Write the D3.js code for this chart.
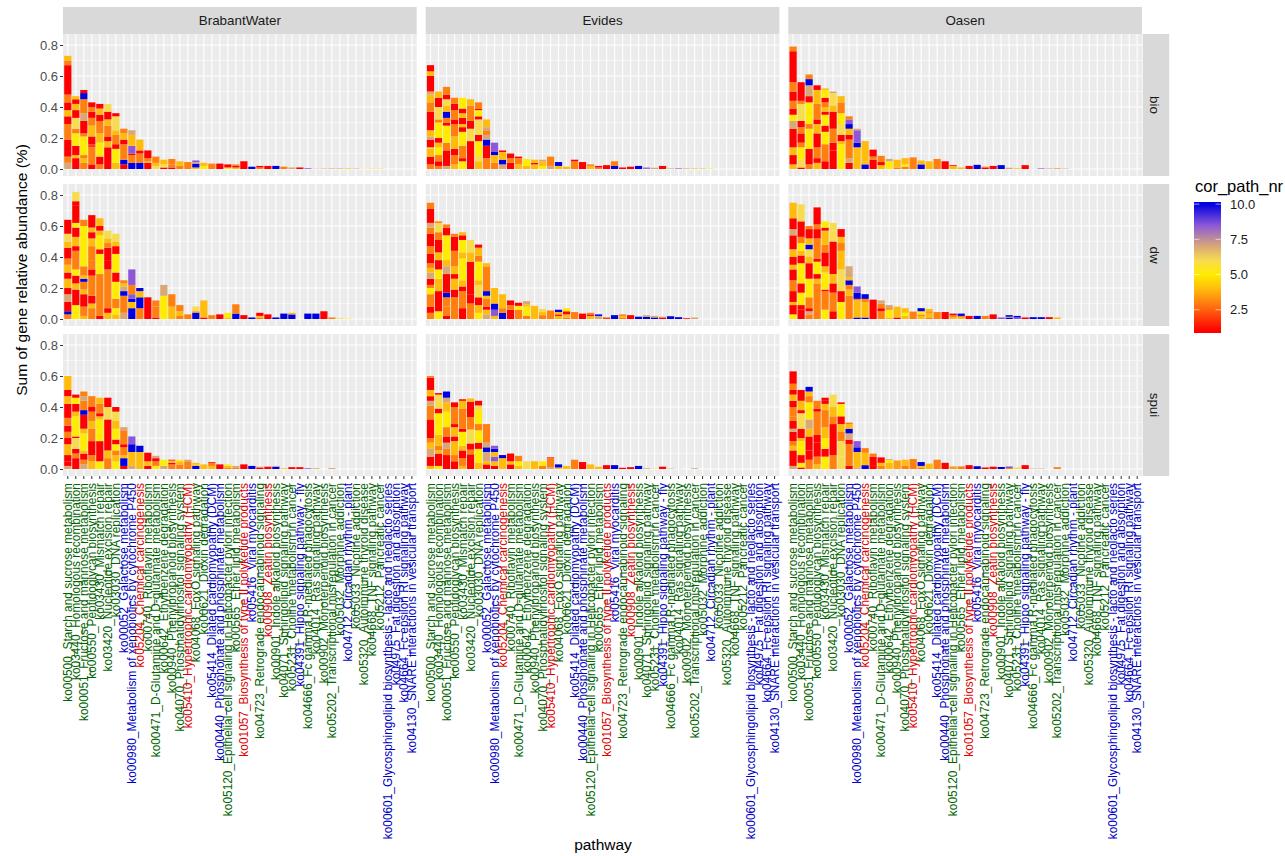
<!DOCTYPE html>
<html>
  <head>
    <title>Pathway abundance</title>
    <script src="https://d3js.org/d3.v7.min.js"></script>
    <style>
      body {
        margin: 0;
        background-color: white;
        overflow: hidden;
      }
      text {
        font-family: "Liberation Sans", Arial, sans-serif;
      }
    </style>
  </head>
  <body>
    <script>
      const pathways = [
        'ko00500_Starch and sucrose metabolism', 'ko03440_Homologous recombination', 'ko00051_Fructose and mannose metabolism',
        'ko00550_Peptidoglycan biosynthesis', 'ko03430_Mismatch repair', 'ko03420_Nucleotide excision repair',
        'ko03030_DNA replication', 'ko00052_Galactose metabolism', 'ko00980_Metabolism of xenobiotics by cytochrome P450',
        'ko05204_Chemical carcinogenesis', 'ko00740_Riboflavin metabolism', 'ko00471_D-Glutamine and D-glutamate metabolism',
        'ko00642_Ethylbenzene degradation', 'ko00940_Phenylpropanoid biosynthesis', 'ko04070_Phosphatidylinositol signaling system',
        'ko05410_Hypertrophic cardiomyopathy (HCM)', 'ko04068_FoxO signaling pathway', 'ko00621_Dioxin degradation',
        'ko05414_Dilated cardiomyopathy (DCM)', 'ko00440_Phosphonate and phosphinate metabolism',
        'ko05120_Epithelial cell signaling in Helicobacter pylori infection', 'ko00565_Ether lipid metabolism',
        'ko01057_Biosynthesis of type II polyketide products', 'ko05416_Viral myocarditis',
        'ko04723_Retrograde endocannabinoid signaling', 'ko00908_Zeatin biosynthesis', 'ko00901_Indole alkaloid biosynthesis',
        'ko04071_Sphingolipid signaling pathway', 'ko05231_Choline metabolism in cancer', 'ko04391_Hippo signaling pathway - fly',
        'ko04666_Fc gamma R-mediated phagocytosis', 'ko04014_Ras signaling pathway', 'ko00902_Monoterpenoid biosynthesis',
        'ko05202_Transcriptional misregulation in cancer', 'ko05032_Morphine addiction', 'ko04712_Circadian rhythm - plant',
        'ko05033_Nicotine addiction', 'ko05320_Autoimmune thyroid disease', 'ko04668_TNF signaling pathway',
        'ko05212_Pancreatic cancer', 'ko00601_Glycosphingolipid biosynthesis - lacto and neolacto series',
        'ko04975_Fat digestion and absorption', 'ko04664_Fc epsilon RI signaling pathway', 'ko04130_SNARE interactions in vesicular transport'
      ];
      // g / b / r per pathway, same order as above
      const pathwayGroup = 'ggggggg' + 'bbr' + 'ggggg' + 'r' + 'gg' + 'bb' + 'gg' + 'r' + 'b' + 'g' + 'r' + 'ggg' + 'b' + 'ggggg' + 'b' + 'gggg' + 'bbbb';
      const companies = ['BrabantWater', 'Evides', 'Oasen'];
      const sources = ['bio', 'dw', 'spui'];
      const yTicks = [0, 0.2, 0.4, 0.6, 0.8];
      const legendTicks = [2.5, 5, 7.5, 10];

      // every column is bottom-up: amount (in 0.01 %), cor_path_nr, amount, cor_path_nr ...
      const bioBrabant = [
        [4,7,4,3,3,1,8,1,10,3,5,1,4,4,5,1,5,3,19,1,3,3,3,4],
        [7,1,2,4,6,1,8,5,3,3,7,6,5,1,4,4,3,1,2,4],
        [4,3,3,4,2,3,12,5,2,3,8,1,5,7,9,3,4,10,2,1],
        [3,1,11,3,2,2,5,1,7,4,5,3,4,1,3,3,3,1],
        [3,3,5,1,9,5,6,4,8,3,4,1,4,4,3,1],
        [14,1,4,4,3,1,7,3,4,4,5,1,5,6],
        [4,4,9,5,3,1,6,3,3,4,9,6,2,1],
        [3,1,3,10,10,3,3,1,4,4,3,3],
        [4,10,5,3,1,1,5,8.5,7,4,3,7],
        [4,10,6,3,2,1,7,4],
        [4,1,1,4,2,3,5,1],
        [2,6,2,4,4,3],
        [1,1,2,6,3,4],
        [1,1,2,3,3.5,3],
        [2,3,3,4],
        [4.5,3],
        [1,4,2.5,10,1,7,1,8.5],
        [2,5,2,4],
        [3.5,3],
        [3.5,1],
        [1,5,2,1],
        [1,4,1,1,1,3],
        [5,1],
        [1.5,10],
        [1,3,1,1],
        [2,1],
        [2,10],
        [1.5,3],
        [1,7],
        [1,1],
        [0.5,8.5],
        [0.2,7],
        [0.3,7],
        [0.3,3],
        [0.4,7],
        [0.4,4],
        [0.3,7],
        [0.2,5],
        [0.3,6],
        [0.3,6]
      ];
      const bioEvides = [
        [3,3,5,1,5,4,1,6,5,1,2,7,4,4,12,1,6,3,5,4,2,7,10,1,3,4,4,1],
        [2,3,3,1,4,3,5,5,3,4,3,1,10,5,2,3,8,6,6,1,4,4],
        [2,7,10,1,5,3,11,5,2,1,3,3,4,10,4,4,4,6,3,1,5,3],
        [3,4,6,3,4,1,8,4,8,3,3,1,6,3,4,1,4,3],
        [5,5,2,1,8,3,9,5,3,1,2,4,4,1,3,4,3,1,7,5],
        [18,1,8,6,5,1,10,3,4,4],
        [5,4,4,6,9,5,4,1,10,6,2,1,4,5,1,1,4,3],
        [7,3,8,1,4,10,3,7,3,3,2,7,5,4],
        [4,3,5,4,2,10,6,8.5],
        [3,7,3,10,5,4,1,1],
        [4,1,3,3,3,1],
        [3,4,4,3,1,1],
        [2,4,4.5,5],
        [3,4,1,1,2,4],
        [2,5,3,4,1,7],
        [2,7,6,3],
        [2,4,2.5,10],
        [1.5,4],
        [5,3,1,1],
        [4.5,1],
        [2,4,1,3],
        [1,3,1,1],
        [2.5,1],
        [2,10,3,3],
        [1,1],
        [1.5,1],
        [2,10],
        [1,8],
        [0.8,7],
        [2,1],
        [0.4,7],
        [0.4,8.5],
        [0.4,7],
        [0.4,4],
        [0.3,7],
        [0.3,5]
      ];
      const bioOasen = [
        [3,4,6,1,5,4,12,1,5,7,4,5,4,1,5,3,6,1,6,3,20,1,3,3],
        [1,1,5,6,8,5,3,3,6,1,4,3,4,1,11,6,2,3,12,1],
        [3,3,10,1,13,5,3,3,14,5,4,1,7,7,4,10,3,3],
        [4,4,3,1,7,3,9,1,6,4,3,1,10,3,9,4,3,1],
        [5,1,11,3,8,5,4,1,7,5,2,1,3,4,3,3,3,1,5,5,1,4],
        [12,1,5,1,9,3,11,1,4,4,8,6,1,7],
        [16,5,2,4,4,1,7,6,7,5,7,3,4,4],
        [4,1,3,7,12,3,3,1,4,4,3,10,3,8.5,2,3],
        [14,4,3,10,8,8.5,1,7],
        [3,10,2,4,13,4],
        [6,1,2,3,4.5,1],
        [2.5,4,2,1,4,3],
        [5,5,1.5,7],
        [1,3,5,4],
        [1.5,3,1.5,5,4,4],
        [7.5,3],
        [3,10,2.5,4],
        [5,4],
        [6.5,3],
        [5,1],
        [2,4,0.5,1],
        [1,4],
        [2,1],
        [2.7,10],
        [1,1,0.5,3],
        [2,1],
        [2.5,10],
        [0.8,7],
        [0.5,4],
        [2.5,1],
        [0.1,7],
        [0.4,8.5],
        [0.4,7],
        [0.4,3],
        [0.3,7]
      ];
      const dwBrabant = [
        [3,3,2,10,6,1,5,7,4,1,6,4,4,1,5,4,4,3,7,1,4,4,5,6,9,1],
        [9,5,10,1,4,4,5,1,4,5,12,3,3,1,6,4,6,1,3,5,11,1,3,1,6,6],
        [2,4,6,3,8,1,3,4,5,3,2,10,2,4,6,3,26,5,4,3],
        [7,3,3,4,5,1,13,3,4,1,6,3,9,3,5,4,4,1,3,4,8,1],
        [2,1,27,3,6,5,7,5,3,1,9,5,3,4,3,1,5,4],
        [4,4,3,1,25,3,6,1,8,1,3,3,3,4,5,6],
        [3,4,4,5,6,3,11,5,6,1,12,5,5,1,3,4,5,6],
        [4,7,11,3,3,10,3,7,2,4,2,3],
        [7,10,4,4,2,10,3,8.5,6,3,10,8.5],
        [7,3,7,10,4,4,2,10],
        [14,1],
        [1,1,7,3,4,3],
        [15,5,7,7],
        [8,4,8,3],
        [2,3,3,4,4,3],
        [3,3],
        [4,10,1,3,2,6,1,6],
        [1,1,11,4],
        [2.5,3],
        [3,1],
        [1,4,3,5],
        [3.5,10,6,3],
        [2.5,1],
        [1,10],
        [1,3,1,4,2,1],
        [3,1],
        [1,10],
        [3.5,10],
        [3,10,1,4],
        [0,1],
        [3.5,10],
        [3.5,10],
        [5,1],
        [1,3],
        [0.3,4],
        [0.3,5]
      ];
      const dwEvides = [
        [4,3,4,1,8,3,4,5,2,3,4,1,4,7,3,4,3,3,6,1,5,3,8,1,4,3,3,7,9,1,4,3],
        [5,5,13,1,8,4,6,5,6,1,5,4,8,1,5,3,6,6,1,3],
        [2,1,6,3,6,3,3,10,12,1,5,7,4,4,16,5,5,1,2,3],
        [14,3,5,1,7,4,3,1,5,4,10,3,9,1,2,3],
        [7,1,11,3,3,1,4,4,14,5,4,4,8,5,3,1,2,4],
        [10,3,6,1,21,1,6,4,8,6],
        [4,5,5,4,5,1,8,6,3,4,12,5,4,3,5,4,2,1],
        [3,7,3,4,2,1,5,3,2,4,3,10,16,3,2,4],
        [2,4,4,8.5,4,10,10,4],
        [4,10,3,3,9,4],
        [6,1,3,3,3,1],
        [6,3,2.5,5,2,1],
        [2,3,6,5,1.5,4,2,7],
        [8.5,4],
        [2.5,3,2,4,2,6],
        [5.5,3],
        [2,4,1,1,1.5,4,1.5,10],
        [1,3,2,4,2,1,2,5],
        [4.5,3],
        [3.5,1],
        [2,4,1,1,1,3],
        [2,7,1,10],
        [1,2],
        [2.5,10],
        [1,3,1,4,1,3],
        [2.5,1],
        [1.5,10],
        [1.5,10,1,7],
        [1,10,1,7],
        [1,1,0.5,7],
        [1.8,10],
        [1.2,10],
        [0.5,1],
        [1,7]
      ];
      const dwOasen = [
        [3,5,6,1,2,4,7,1,7,3,7,1,3,4,5,1,5,4,9,1,4,7,7,1,4,4,6,4],
        [6,1,3,1,8,5,6,1,13,5,5,1,3,4,5,5,4,3,10,1,11,6],
        [3,3,2,7,2,1,7,3,12,5,10,1,4,4,5,6,3,10,4,4,6,1,2,3],
        [23,3,3,4,3,1,8,5,2,1,13,3,6,1,3,3,11,1],
        [6,5,12,3,1,1,11,5,4,4,9,1,5,3,9,4,2,1,4,5],
        [5,1,12,3,6,1,6,4,21,1,7,6,5,6],
        [11,5,7,1,14,6,6,4,6,4,5,3,4,4,5,1],
        [15,3,4,4,3,3,3,10,2,4,4,7,3,7],
        [1,10,11,4,1,3,4,10,4,8.5],
        [1,10,10,4,2,3,3,10],
        [12.5,1],
        [5,3,2,1,3,3,2,7],
        [1,4,5,5,1,3,2,7],
        [1,1,7,4],
        [2,4,2,5,3,4],
        [4.8,3],
        [2,4,1,3,2,5,2,10],
        [1,3,3,4,1,3,1.5,4],
        [4.5,3],
        [4.5,1],
        [1,4,1.5,3,1,1],
        [1,4,1,3,1.5,10],
        [2,1],
        [2,10],
        [2,3],
        [3,1],
        [1,8.5],
        [1,10,0.5,4,1,10],
        [1,8.5,1,10],
        [1,1],
        [1.2,10],
        [1.2,10],
        [1.2,1],
        [1,4]
      ];
      const spuiBrabant = [
        [2,7,3,1,4,1,7,4,4,1,4,3,4,1,5,3,9,1,5,4,4,1,9,4],
        [7,1,3,3,3,1,7,6,1,1,13,5,3,4,5,1,4,5,2,1],
        [3,7,3,3,4,1,2,4,11,5,3,4,9,1,3,10,6,3,3,7,3,3],
        [5,4,4,3,9,1,8,3,5,4,6,3,3,1,7,3],
        [5,5,13,1,14,5,2,4,2,1,6,3,4,4],
        [7,3,5,4,20,1,8,6,6,1],
        [5,5,4,4,3,3,4,5,3,1,7,5,5,4,6,6,3,1],
        [2,1,5,10,2,4,5,3,2,1,9,3,2,7],
        [2,7,9,4,5,10,5,8.5],
        [11,4,4,10],
        [2,1,3,4,5.5,1],
        [2,5,3,3,2,1,1.5,7],
        [2,7,4,5],
        [3,3,1,1,1.5,4,0.5,1],
        [3,3,2,4,1,5],
        [2,3,3,3,1,7],
        [2,10,1,4,1,4],
        [3,4],
        [2,4,2,3,0.5,1],
        [3,1],
        [1,3,1,4,1,5],
        [1,3,1,7],
        [3,1],
        [2,10],
        [1,1,0.5,7],
        [1.5,1],
        [1.5,10,0.5,7],
        [0.5,4],
        [1.2,1],
        [1.2,1],
        [0.5,8.5],
        [0.5,7],
        [0,1],
        [0.6,7]
      ];
      const spuiEvides = [
        [2,4,6,1,5,7,4,4,3,3,12,1,9,3,3,7,3,1,4,4,8,1,1,3],
        [2,5,8,1,2,4,3,3,7,4,14,5,3,1,9,6,1,1],
        [9,1,4,3,4,7,4,1,6,3,10,5,6,4,3,7,4,10],
        [5,1,4,3,9,4,3,1,6,4,2,1,11,3,3,1],
        [2,4,5,3,5,1,3,4,9,5,2,1,13,3,5,4,1,1],
        [9.5,1,3,3,4,1,9,6,8,3,10,1,2,4],
        [4,4,9,5,4,1,8,5,4,3,9,5,3,6,3,1],
        [3,1,2,4,6,7,3,10,3,7,12,3],
        [2,1,3,4,3,8.5,3,4,2,10,2,8.5],
        [7,4,2,10],
        [3,1,2,4,5,1],
        [2,4,3,5,3.5,3],
        [5,6],
        [5,4],
        [2,3,3,5],
        [1,7,6,3,0.5,1],
        [1,4,2,10],
        [2,4],
        [6,3],
        [4.5,1],
        [3,4],
        [1.5,4],
        [2.5,1],
        [2.5,10],
        [0.8,1],
        [1.2,1],
        [2,10],
        [0.5,7],
        [0.3,6],
        [1.5,1],
        [0.3,7],
        [0.1,7],
        [0,1],
        [0.5,7]
      ];
      const spuiOasen = [
        [2,7,10,1,3,4,3,3,6,1,2,7,5,1,3,3,6,3,4,1,4,4,3,1,4,3,8,1],
        [1,1,3,5,5,1,9,5,2,4,6,1,10,6,2,1,6,4,7,1],
        [6,3,6,1,9,1,5,4,6,7,11,5,4,3,3,4,3,10],
        [3,4,5,3,9,1,5,1,15,3,2,1,5,3],
        [8,5,5,1,7,5,7,4,11,3,4,4,2,1,2,1],
        [9,3,11,1,9,1,5,3,6,4,8,6],
        [8,6,10,6,6,3,5,4,5,1,8,5,1,1],
        [2,1,14,3,3,1,4,7,3,10,3,4,1,3],
        [1,7,10,4,3,10,4,8.5],
        [2.5,10,8,4,3,3],
        [2,1,6,1,2,3],
        [2,3,2,4,3.5,1],
        [4,4,2,5,0.5,7],
        [5.5,3.5],
        [2,3,4,4],
        [6.5,3],
        [1,3,1,4,2.5,10],
        [3.5,4],
        [6,3],
        [4,1],
        [1.7,3.5],
        [1.7,3],
        [2.5,1],
        [1.8,10],
        [1,1],
        [1.5,1],
        [1.3,10],
        [1,3,0.5,10],
        [1,6],
        [2.5,1],
        [0.3,7],
        [0.3,7],
        [0,1],
        [1.2,3]
      ];

      const panelData = {
        bio: {BrabantWater: bioBrabant, Evides: bioEvides, Oasen: bioOasen},
        dw: {BrabantWater: dwBrabant, Evides: dwEvides, Oasen: dwOasen},
        spui: {BrabantWater: spuiBrabant, Evides: spuiEvides, Oasen: spuiOasen}
      };

      const w = 1285;
      const h = 856;
      const panelW = 353.7;
      const panelH = 142;
      const panelLeft = [63, 425.7, 788.3];
      const panelTop = [34, 184, 334];
      const groupColour = {g: '#006400', b: '#0000c8', r: '#e00000'};

      const colour = d3.scaleLinear()
                       .domain([1, 2.8, 4, 5, 6, 7, 8.5, 10])
                       .range(['#ff0000', '#ff7410', '#ffbc0c', '#ffec00', '#f8dc50', '#d8a878', '#8c58d8', '#0000e0'])
                       .clamp(true);

      const x = d3.scaleBand()
                  .domain(pathways)
                  .range([0, panelW])
                  .paddingInner(0.1)
                  .paddingOuter(0.15);

      const y = d3.scaleLinear()
                  .domain([-0.045, 0.871])
                  .range([panelH, 0]);

      const svg = d3.select('body')
                    .append('svg')
                    .attr('width', w)
                    .attr('height', h);

      // turns [amount, nr, amount, nr, ...] into stacked rects
      function stackColumn(col, i) {
        const parts = d3.range(0, col.length, 2).map(k => ({v: col[k] / 100, nr: col[k + 1]}));
        const tops = Array.from(d3.cumsum(parts, d => d.v));
        return parts.map((d, k) => ({path: pathways[i], y0: k ? tops[k - 1] : 0, y1: tops[k], nr: d.nr}));
      }

      sources.forEach((source, r) => {
        companies.forEach((company, c) => {
          const g = svg.append('g')
                       .attr('transform', `translate(${panelLeft[c]},${panelTop[r]})`);

          g.append('rect')
           .attr('width', panelW)
           .attr('height', panelH)
           .style('fill', '#ebebeb');

          g.selectAll('.minor')
           .data(d3.range(0.1, 0.9, 0.2))
           .enter()
           .append('line')
           .attr('x2', panelW)
           .attr('y1', d => y(d))
           .attr('y2', d => y(d))
           .style('stroke', 'white')
           .style('stroke-width', 0.5);

          g.selectAll('.major')
           .data(yTicks)
           .enter()
           .append('line')
           .attr('x2', panelW)
           .attr('y1', d => y(d))
           .attr('y2', d => y(d))
           .style('stroke', 'white')
           .style('stroke-width', 1.1);

          g.selectAll('.vert')
           .data(pathways)
           .enter()
           .append('line')
           .attr('x1', d => x(d) + x.bandwidth() / 2)
           .attr('x2', d => x(d) + x.bandwidth() / 2)
           .attr('y2', panelH)
           .style('stroke', 'white')
           .style('stroke-width', 1.1);

          const segments = panelData[source][company].flatMap(stackColumn);

          g.selectAll('.bar')
           .data(segments)
           .enter()
           .append('rect')
           .attr('class', 'bar')
           .attr('x', d => x(d.path))
           .attr('width', x.bandwidth())
           .attr('y', d => y(d.y1))
           .attr('height', d => y(d.y0) - y(d.y1))
           .style('fill', d => colour(d.nr));

          if (c === 0) {
            const axisY = g.append('g')
                           .call(d3.axisLeft(y).tickValues(yTicks).tickFormat(d3.format('.1f')).tickSize(3).tickPadding(2));
            axisY.select('.domain').remove();
            axisY.selectAll('line').style('stroke', '#333333');
            axisY.selectAll('text')
                 .style('font-size', '13px')
                 .style('fill', '#4d4d4d');
          }

          if (r === sources.length - 1) {
            const axisX = g.append('g')
                           .attr('transform', `translate(0,${panelH})`)
                           .call(d3.axisBottom(x).tickSize(3));
            axisX.select('.domain').remove();
            axisX.selectAll('line').style('stroke', '#333333');
            axisX.selectAll('text')
                 .attr('transform', 'rotate(-90)')
                 .attr('x', -7)
                 .attr('y', 0)
                 .attr('dy', '0.35em')
                 .style('text-anchor', 'end')
                 .style('font-size', '11.9px')
                 .style('fill', (d, i) => groupColour[pathwayGroup[i]]);
          }
        });
      });

      // strips
      companies.forEach((company, c) => {
        svg.append('rect')
           .attr('x', panelLeft[c])
           .attr('y', 7)
           .attr('width', panelW)
           .attr('height', 27)
           .style('fill', '#d9d9d9');
        svg.append('text')
           .attr('x', panelLeft[c] + panelW / 2)
           .attr('y', 25)
           .style('text-anchor', 'middle')
           .style('font-size', '13.4px')
           .style('fill', '#1a1a1a')
           .text(company);
      });

      sources.forEach((source, r) => {
        svg.append('rect')
           .attr('x', 1142.7)
           .attr('y', panelTop[r])
           .attr('width', 26.5)
           .attr('height', panelH)
           .style('fill', '#d9d9d9');
        svg.append('text')
           .attr('transform', `translate(1155,${panelTop[r] + panelH / 2}) rotate(90)`)
           .attr('dy', '0.35em')
           .style('text-anchor', 'middle')
           .style('font-size', '13.4px')
           .style('fill', '#1a1a1a')
           .text(source);
      });

      // axis titles
      svg.append('text')
         .attr('x', 603)
         .attr('y', 850)
         .style('text-anchor', 'middle')
         .style('font-size', '15.5px')
         .text('pathway');

      svg.append('text')
         .attr('transform', 'translate(27,270) rotate(-90)')
         .style('text-anchor', 'middle')
         .style('font-size', '15.5px')
         .text('Sum of gene relative abundance (%)');

      // legend
      const legendY = d3.scaleLinear()
                        .domain([0.85, 10.15])
                        .range([333, 202]);

      const gradient = svg.append('defs')
                          .append('linearGradient')
                          .attr('id', 'legendGradient')
                          .attr('x1', 0)
                          .attr('y1', 1)
                          .attr('x2', 0)
                          .attr('y2', 0);

      gradient.selectAll('stop')
              .data(d3.range(0, 1.001, 0.02))
              .enter()
              .append('stop')
              .attr('offset', d => d)
              .attr('stop-color', d => colour(0.85 + d * 9.3));

      svg.append('text')
         .attr('x', 1195)
         .attr('y', 192)
         .style('font-size', '16.5px')
         .text('cor_path_nr');

      svg.append('rect')
         .attr('x', 1194)
         .attr('y', 202)
         .attr('width', 27)
         .attr('height', 131)
         .style('fill', 'url(#legendGradient)');

      const legendAxis = svg.append('g')
                            .attr('transform', 'translate(1221,0)')
                            .call(d3.axisRight(legendY).tickValues(legendTicks).tickFormat(d3.format('.1f')).tickSize(0).tickPadding(9));
      legendAxis.select('.domain').remove();
      legendAxis.selectAll('text').style('font-size', '13px').style('fill', '#1a1a1a');

      svg.selectAll('.legendTick')
         .data(legendTicks.flatMap(t => [{t: t, x0: 1194}, {t: t, x0: 1215.6}]))
         .enter()
         .append('line')
         .attr('x1', d => d.x0)
         .attr('x2', d => d.x0 + 5.4)
         .attr('y1', d => legendY(d.t))
         .attr('y2', d => legendY(d.t))
         .style('stroke', 'white')
         .style('stroke-width', 0.6);
    </script>
  </body>
</html>
